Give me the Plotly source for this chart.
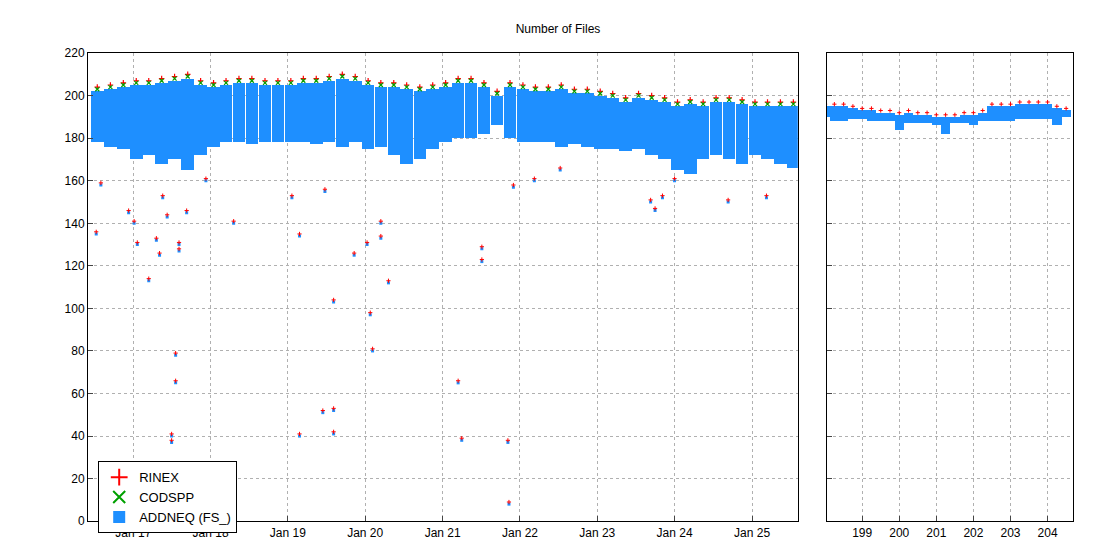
import plotly.graph_objects as go
import pandas as pd

# ---- left panel: bimonthly envelope (2016-06 .. 2025-08)
dates = pd.date_range("2016-06-15", periods=56, freq="2MS") + pd.Timedelta(days=14)
addneq_top = [202,203,204,205,
              205,206,207,208,205,204,
              205,206,206,205,205,205,
              206,206,207,208,207,205,
              204,204,203,202,203,204,
              206,206,204,200,204,203,
              202,202,203,201,201,200,
              199,197,199,198,197,195,
              196,195,197,197,196,195,
              195,195,195,195]
codspp_top = [203,204,205,206,
              206,207,208,209,206,205,
              206,207,207,206,206,206,
              207,207,208,209,208,206,
              205,205,204,203,204,205,
              207,207,205,201,205,204,
              203,203,204,202,202,201,
              200,198,200,199,198,196,
              197,196,198,198,197,196,
              196,196,196,196]
rinex_top = [204,205,206,207,
             207,208,209,210,207,206,
             207,208,208,207,207,207,
             208,208,209,210,209,207,
             206,206,205,204,205,206,
             208,208,206,202,206,205,
             204,204,205,203,203,202,
             201,199,201,200,199,197,
             198,197,199,199,198,197,
             197,197,197,197]
addneq_low = [178,176,175,170,
              172,168,170,165,172,176,
              178,178,177,178,178,178,
              178,177,178,176,178,175,
              176,172,168,170,175,178,
              180,180,182,186,180,178,
              178,178,176,177,176,175,
              175,174,175,172,170,165,
              163,170,172,170,168,172,
              170,168,166,172]
# outliers (date, value)
out_dates = ["2016-07-10","2016-08-01","2016-12-10","2017-01-05","2017-01-20","2017-03-15",
             "2017-04-20","2017-05-05","2017-05-20","2017-06-10","2017-07-01","2017-07-01",
             "2017-07-20","2017-07-20","2017-08-05","2017-08-05","2017-09-10","2017-12-10",
             "2018-04-20","2019-01-20","2019-02-25","2019-02-25","2019-06-15","2019-06-25",
             "2019-08-05","2019-08-05","2019-08-05","2019-11-10","2020-01-10","2020-01-25",
             "2020-02-05","2020-03-15","2020-03-15","2020-04-20","2021-03-15","2021-04-01",
             "2021-07-05","2021-07-05","2021-11-05","2021-11-10","2021-12-01","2022-03-10",
             "2022-07-10","2023-09-10","2023-10-01","2023-11-05","2024-01-01","2024-09-10",
             "2025-03-10"]
out_vals = [135,158,145,140,130,113,132,125,152,143,40,37,78,65,130,127,145,160,
            140,152,40,134,51,155,52,41,103,125,130,97,80,140,133,112,65,38,122,128,37,8,
            157,160,165,150,146,152,160,150,152]

# ---- right panel (days)
days = [198.0,198.25,198.5,198.75,199.0,199.25,199.5,199.75,200.0,200.25,200.5,200.75,
        201.0,201.25,201.5,201.75,202.0,202.25,202.5,202.75,203.0,203.25,203.5,203.75,
        204.0,204.25,204.5]
r_top = [195,195,195,194,193,193,192,192,191,192,191,191,190,190,190,191,191,192,195,195,
         195,196,196,196,196,194,193]
r_rinex = [196,196,196,195,194,194,193,193,192,193,192,192,191,191,191,192,192,193,196,196,
           196,197,197,197,197,195,194]
r_low = [190,188,188,189,189,188,188,188,184,187,187,187,186,182,187,187,186,188,188,188,
         188,189,189,189,189,186,190]

C_R, C_G, C_B = "#ff0000", "#00a000", "#1e8fff"
fig = go.Figure()
bw = 61 * 86400000 * 0.97
fig.add_trace(go.Bar(x=dates, y=[t - l for t, l in zip(addneq_top, addneq_low)], base=addneq_low,
                     width=bw, marker=dict(color=C_B, line_width=0), showlegend=False,
                     xaxis="x", yaxis="y"))
fig.add_trace(go.Bar(x=days, y=[t - l for t, l in zip(r_top, r_low)], base=r_low,
                     width=0.25, marker=dict(color=C_B, line_width=0), showlegend=False,
                     xaxis="x2", yaxis="y2"))
fig.add_trace(go.Scatter(x=dates, y=rinex_top, mode="markers", name="RINEX",
                         marker=dict(symbol="cross-thin", size=4, line=dict(color=C_R, width=1.2))))
fig.add_trace(go.Scatter(x=dates, y=codspp_top, mode="markers", name="CODSPP",
                         marker=dict(symbol="x-thin", size=4, line=dict(color=C_G, width=1.2))))
fig.add_trace(go.Scatter(x=out_dates, y=out_vals, mode="markers", name="ADDNEQ (FS_)",
                         marker=dict(symbol="square", size=3, color=C_B)))
fig.add_trace(go.Scatter(x=out_dates, y=[v + 1 for v in out_vals], mode="markers", showlegend=False,
                         marker=dict(symbol="cross-thin", size=3, line=dict(color=C_R, width=1))))
fig.add_trace(go.Scatter(x=days, y=r_rinex, mode="markers", showlegend=False, xaxis="x2", yaxis="y2",
                         marker=dict(symbol="cross-thin", size=3, line=dict(color=C_R, width=1))))

ax = dict(showline=True, linecolor="black", mirror=True, ticks="inside", ticklen=5,
          showgrid=True, gridcolor="#b0b0b0", griddash="dot", zeroline=False, automargin=False)
fig.update_layout(
    width=1100, height=550, margin=dict(l=0, r=0, t=0, b=0, autoexpand=False),
    paper_bgcolor="white", plot_bgcolor="white", barmode="overlay", bargap=0,
    font=dict(family="Liberation Sans, Arial", size=12, color="black"),
    title=dict(text="Number of Files", x=0.5, y=0.97, xanchor="center", font=dict(size=12)),
    xaxis=dict(domain=[0.0727, 0.718], type="date", range=["2016-06-01", "2025-08-05"],
               tickvals=[f"20{y}-01-01" for y in range(17, 26)],
               ticktext=[f"Jan {y}" for y in range(17, 26)], **ax),
    xaxis2=dict(domain=[0.7445, 0.968], range=[198.05, 204.68], dtick=1, anchor="y2", **ax),
    yaxis=dict(domain=[0.067, 0.918], range=[0, 220], dtick=20, anchor="x", **ax),
    yaxis2=dict(domain=[0.067, 0.918], range=[0, 220], dtick=20, anchor="x2",
                showticklabels=False, **ax),
    legend=dict(x=0.082, y=0.176, xanchor="left", yanchor="top", bgcolor="white",
                bordercolor="black", borderwidth=1, font=dict(size=13), itemwidth=30,
                tracegroupgap=0, itemsizing="constant"),
)
fig.write_html("out.html")
